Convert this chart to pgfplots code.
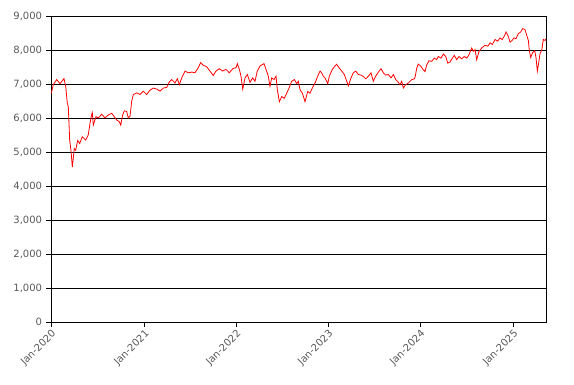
\documentclass[border=0pt]{standalone}
\usepackage{fontspec}
\setmainfont{DejaVu Sans}
\usepackage{pgfplots}
\pgfplotsset{compat=1.18}
\definecolor{tickgray}{RGB}{89,89,89}
\begin{document}
\begin{tikzpicture}
\begin{axis}[
  scale only axis, width=371.25pt, height=229.5pt,
  xmin=0, xmax=5.38, ymin=0, ymax=9000,
  xtick={0,1.014,2.013,3.012,4.011,5.022},
  xticklabels={Jan-2020,Jan-2021,Jan-2022,Jan-2023,Jan-2024,Jan-2025},
  ytick={0,1000,2000,3000,4000,5000,6000,7000,8000,9000},
  ymajorgrids, grid style={black, line width=0.6pt},
  axis line style={black, line width=0.6pt},
  tick style={black, line width=0.6pt},
  tick align=outside, major tick length=3.5pt,
  xtick pos=lower, ytick pos=left,
  scaled y ticks=false,
  /pgf/number format/assume math mode=true,
  /pgf/number format/1000 sep={,},
  ticklabel style={font=\fontsize{7.5}{9}\selectfont, text=tickgray},
  xticklabel style={rotate=45, anchor=north east, inner sep=1pt},
  yticklabel style={inner sep=1pt, xshift=-2pt},
]
\addplot[red, line width=0.6pt] coordinates {
(0.003,6730)(0.025,6980)(0.062,7130)(0.098,7010)(0.141,7160)(0.160,6930)(0.177,6435)(0.188,6335)
(0.203,5350)(0.217,5050)(0.232,4555)(0.253,5100)(0.268,5050)(0.290,5340)(0.312,5250)(0.340,5450)
(0.377,5350)(0.405,5500)(0.424,5840)(0.442,6100)(0.449,6160)(0.460,5790)(0.489,6040)(0.514,6000)
(0.551,6110)(0.587,6000)(0.623,6090)(0.660,6140)(0.685,6050)(0.714,5940)(0.742,5890)(0.758,5790)
(0.779,6090)(0.797,6210)(0.823,6190)(0.840,6000)(0.859,6050)(0.877,6490)(0.895,6690)(0.932,6740)
(0.967,6690)(1.003,6790)(1.040,6690)(1.076,6820)(1.112,6880)(1.149,6850)(1.185,6790)(1.221,6880)
(1.258,6900)(1.286,7060)(1.312,7130)(1.348,7030)(1.373,7160)(1.395,6980)(1.421,7180)(1.457,7380)
(1.492,7330)(1.529,7350)
(1.565,7330)(1.601,7480)(1.627,7630)(1.655,7550)(1.692,7510)(1.728,7380)(1.764,7250)(1.793,7380)
(1.829,7450)(1.866,7380)(1.902,7430)(1.938,7330)(1.975,7450)(2.011,7480)(2.025,7600)(2.047,7430)
(2.065,7230)(2.084,6850)(2.109,7180)(2.134,7280)(2.163,7050)(2.192,7180)(2.217,7080)(2.242,7380)
(2.272,7530)(2.315,7600)(2.337,7430)(2.362,7230)(2.380,6930)(2.399,7180)(2.424,7130)(2.446,7230)
(2.460,6830)(2.482,6480)(2.508,6630)(2.536,6580)(2.562,6730)(2.587,6880)(2.616,7080)(2.645,7130)
(2.671,7010)(2.688,7080)(2.707,6830)(2.732,6730)(2.761,6480)(2.790,6780)(2.815,6730)(2.840,6880)
(2.870,7030)(2.899,7230)(2.924,7380)(2.942,7330)(2.960,7230)(2.978,7180)(3.008,7010)(3.025,7230)
(3.058,7430)(3.087,7530)(3.105,7580)(3.130,7480)(3.160,7380)(3.188,7280)(3.214,7080)(3.232,6950)
(3.261,7180)(3.286,7330)(3.312,7380)(3.340,7280)(3.370,7260)(3.395,7220)(3.421,7150)(3.449,7230)
(3.478,7330)(3.503,7080)(3.529,7230)(3.558,7350)(3.587,7450)(3.612,7330)(3.638,7260)(3.666,7280)
(3.696,7180)(3.721,7280)(3.747,7130)(3.775,7050)(3.793,6980)(3.812,7080)(3.829,6880)(3.855,6980)
(3.884,7030)(3.921,7130)(3.949,7150)(3.957,7200)(3.975,7465)(3.992,7585)(4.022,7515)(4.047,7415)
(4.065,7365)(4.084,7565)(4.109,7685)(4.138,7665)(4.166,7760)(4.192,7715)(4.210,7810)(4.239,7760)
(4.264,7880)(4.290,7810)(4.312,7615)(4.337,7645)(4.362,7760)(4.384,7840)(4.410,7715)(4.435,7810)
(4.464,7740)(4.492,7810)(4.518,7760)(4.543,7860)(4.573,8060)(4.590,7960)(4.609,8010)(4.627,7715)
(4.652,7960)(4.682,8060)(4.717,8140)(4.747,8110)(4.772,8210)(4.797,8160)(4.826,8310)(4.855,8260)
(4.880,8355)(4.905,8305)(4.935,8455)(4.946,8530)(4.971,8400)(4.989,8230)(5.011,8280)
(5.033,8360)(5.054,8330)(5.079,8480)(5.105,8530)(5.127,8630)(5.152,8600)(5.171,8430)(5.188,8280)
(5.199,7980)(5.214,7780)(5.236,7930)(5.258,7980)(5.272,7760)(5.286,7380)(5.301,7630)(5.315,7890)
(5.334,8000)(5.351,8310)(5.370,8280)(5.380,8330)
};
\end{axis}
\pgfresetboundingbox
\path[use as bounding box] ([xshift=-38.25pt,yshift=-47.25pt]current axis.south west) rectangle ([xshift=21pt,yshift=12pt]current axis.north east);
\end{tikzpicture}
\end{document}
